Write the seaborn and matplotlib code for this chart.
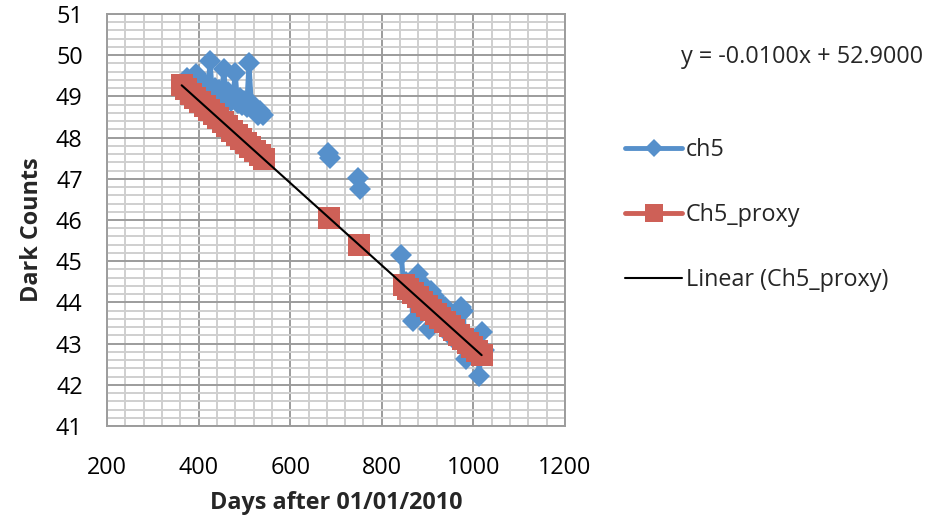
import numpy as np
import pandas as pd
import matplotlib
matplotlib.use("Agg")
import matplotlib.pyplot as plt
from matplotlib.ticker import MultipleLocator
import seaborn as sns

# Measured dark counts, channel 5
ch5_days = [365, 370, 375, 380, 385, 390, 395, 400, 405, 410, 415, 420,
            425, 430, 435, 440, 445, 450, 455, 460, 465, 470, 475, 480,
            485, 490, 495, 500, 505, 510, 515, 520, 525, 530, 535, 540,
            683, 687,
            749, 752,
            843, 848, 853, 858, 863, 868, 873, 878, 883, 888, 893, 898,
            903, 908, 913, 918, 923, 928, 933, 938, 943, 948, 953, 958,
            963, 968, 973, 978, 983, 988, 993, 998, 1003, 1008, 1013, 1018, 1023]
ch5_counts = [49.30, 49.38, 49.45, 49.35, 49.42, 49.30, 49.55, 49.25, 49.35, 49.20, 49.30, 49.15,
              49.86, 49.10, 49.20, 49.05, 49.15, 49.00, 49.66, 48.95, 49.10, 48.90, 49.00, 49.58,
              48.85, 48.95, 48.80, 48.90, 48.75, 49.82, 48.85, 48.70, 48.70, 48.55, 48.65, 48.55,
              47.62, 47.50,
              47.02, 46.75,
              45.15, 44.30, 44.50, 44.25, 44.40, 43.55, 44.15, 44.68, 44.30, 44.45, 44.05, 43.95,
              43.35, 44.28, 44.15, 44.05, 43.80, 43.95, 43.65, 43.90, 43.55, 43.45, 43.15, 43.50,
              43.30, 43.70, 43.90, 43.80, 42.62, 43.15, 43.00, 43.05, 42.85, 43.00, 42.22, 43.28, 42.85]

# Proxy model for channel 5
proxy_days = [363, 373, 383, 393, 403, 413, 423, 433, 443, 453, 463, 473,
              483, 493, 503, 513, 523, 533, 543,
              685,
              750,
              848, 858, 868, 878, 888, 898, 908, 918, 928, 938, 948, 958,
              968, 978, 988, 998, 1008, 1018]
proxy_counts = [49.27, 49.17, 49.07, 48.97, 48.87, 48.77, 48.67, 48.57, 48.47, 48.37, 48.27, 48.17,
                48.07, 47.97, 47.87, 47.77, 47.67, 47.57, 47.47,
                46.05,
                45.40,
                44.42, 44.32, 44.22, 44.12, 44.02, 43.92, 43.82, 43.72, 43.62, 43.52, 43.42, 43.32,
                43.22, 43.12, 43.02, 42.92, 42.82, 42.72]

x_ticks = [200, 400, 600, 800, 1000, 1200]
y_ticks = [41, 42, 43, 44, 45, 46, 47, 48, 49, 50, 51]

BLUE = "#5690CB"
RED = "#CE6057"
FONT = 16.8

sns.set_style("white")
plt.rcParams["font.family"] = ["Open Sans", "DejaVu Sans"]

fig = plt.figure(figsize=(9.49, 5.18), dpi=100)
ax = fig.add_axes([107 / 949, 1 - 426 / 518, 458 / 949, 412 / 518])


def runs(days, counts):
    """Split a series wherever there is a long gap in days (no connecting line)."""
    df = pd.DataFrame({"day": days, "count": counts})
    df["run"] = (df["day"].diff() > 30).cumsum()
    return df


ch5_df = runs(ch5_days, ch5_counts)
proxy_df = runs(proxy_days, proxy_counts)

for i, (_, part) in enumerate(ch5_df.groupby("run")):
    sns.lineplot(data=part, x="day", y="count", ax=ax, estimator=None, sort=False,
                 color=BLUE, lw=3.5, marker="D", markersize=11,
                 markeredgecolor=BLUE, markeredgewidth=0, zorder=3,
                 label="ch5" if i == 0 else None)

for i, (_, part) in enumerate(proxy_df.groupby("run")):
    sns.lineplot(data=part, x="day", y="count", ax=ax, estimator=None, sort=False,
                 color=RED, lw=3.5, marker="s", markersize=16.5,
                 markeredgecolor=RED, markeredgewidth=0, zorder=4,
                 label="Ch5_proxy" if i == 0 else None)

# Least-squares trend of the proxy series
sns.regplot(x=np.array(proxy_days), y=np.array(proxy_counts), ax=ax, scatter=False,
            ci=None, truncate=True, color="black", label="Linear (Ch5_proxy)",
            line_kws={"lw": 1.5, "zorder": 5})
slope, intercept = np.polyfit(proxy_days, proxy_counts, 1)
sign = "+" if intercept >= 0 else "-"
fig.text(681 / 949, 1 - 57 / 518, f"y = {slope:.4f}x {sign} {abs(intercept):.4f}",
         fontsize=FONT, ha="left", va="center")

# Axes, ticks and grid
ax.set_xlim(200, 1200)
ax.set_ylim(41, 51)
ax.set_xticks(x_ticks)
ax.set_yticks(y_ticks)
ax.xaxis.set_minor_locator(MultipleLocator(40))
ax.yaxis.set_minor_locator(MultipleLocator(0.2))
ax.set_axisbelow(True)
ax.grid(which="minor", color="#CFCFCF", lw=1.4)
ax.grid(which="major", color="#9C9C9C", lw=1.4)
for s in ax.spines.values():
    s.set_color("#9C9C9C")
    s.set_linewidth(1.4)
ax.tick_params(which="major", direction="out", length=5.5, width=1.2, color="#9C9C9C",
               labelsize=FONT, labelcolor="black")
ax.tick_params(axis="x", which="major", pad=16)
ax.tick_params(axis="y", which="major", pad=12)
ax.tick_params(which="minor", length=0)

ax.set_xlabel("Days after 01/01/2010", fontsize=FONT, fontweight="bold", labelpad=8)
ax.set_ylabel("Dark Counts", fontsize=FONT, fontweight="bold")
ax.yaxis.set_label_coords(-0.1376, 0.476)

handles, labels = ax.get_legend_handles_labels()
order = ["ch5", "Ch5_proxy", "Linear (Ch5_proxy)"]
hl = {l: h for h, l in zip(handles, labels)}
ax.legend([hl[l] for l in order], order, loc="center left",
          bbox_to_anchor=(625 / 949, 1 - 215 / 518), bbox_transform=fig.transFigure,
          frameon=False, fontsize=FONT, handlelength=2.45, handletextpad=0.15,
          labelspacing=1.76, borderpad=0, borderaxespad=0, markerscale=0.8)

fig.savefig("out.png", dpi=100)
